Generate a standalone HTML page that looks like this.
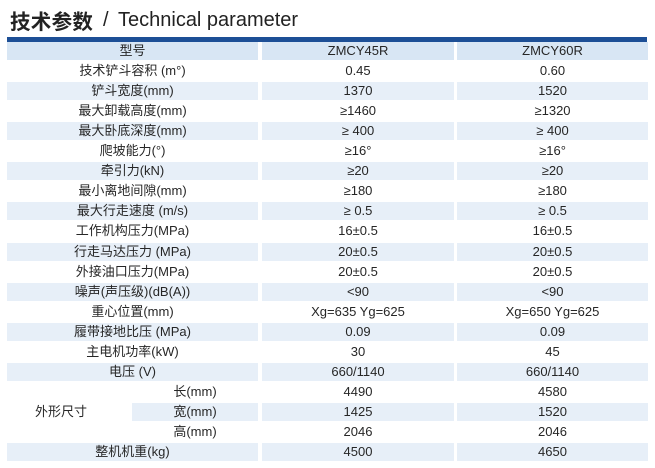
<!DOCTYPE html>
<html>
<head>
<meta charset="utf-8">
<style>
  html,body{margin:0;padding:0;background:#fff;}
  body{width:655px;height:468px;position:relative;overflow:hidden;
       font-family:"Liberation Sans","Noto Sans CJK SC",sans-serif;color:#262626;}
  .t{position:absolute;top:6px;height:28px;line-height:28px;white-space:nowrap;color:#222;}
  .cn{font-family:"Noto Sans CJK SC",sans-serif;font-weight:700;font-size:20.5px;letter-spacing:0.3px;}
  .en{font-family:"Liberation Sans",sans-serif;font-size:20px;}
  .bar{position:absolute;left:7px;top:37px;width:640px;height:5px;background:#1d4f96;}
  .c{position:absolute;height:18px;line-height:18px;font-size:13px;text-align:center;white-space:nowrap;}
  .s{background:#e7eff8;}
  .h{background:#d8e6f4;}
  .l{left:7px;width:251px;}
  .m{left:262px;width:192px;}
  .r{left:457px;width:191px;}
  .sub{left:132px;width:126px;}
</style>
</head>
<body>
<div class="t cn" style="left:10px;">技术参数</div>
<div class="t en" style="left:103px;top:6px;">/</div>
<div class="t en" style="left:118px;top:6px;">Technical parameter</div>
<div class="bar"></div>

<div class="c l h" style="top:42px">型号</div>
<div class="c m h" style="top:42px">ZMCY45R</div>
<div class="c r h" style="top:42px">ZMCY60R</div>

<div class="c l" style="top:62px">技术铲斗容积 (m°)</div>
<div class="c m" style="top:62px">0.45</div>
<div class="c r" style="top:62px">0.60</div>

<div class="c l s" style="top:82px">铲斗宽度(mm)</div>
<div class="c m s" style="top:82px">1370</div>
<div class="c r s" style="top:82px">1520</div>

<div class="c l" style="top:102px">最大卸载高度(mm)</div>
<div class="c m" style="top:102px">≥1460</div>
<div class="c r" style="top:102px">≥1320</div>

<div class="c l s" style="top:122px">最大卧底深度(mm)</div>
<div class="c m s" style="top:122px">≥ 400</div>
<div class="c r s" style="top:122px">≥ 400</div>

<div class="c l" style="top:142px">爬坡能力(°)</div>
<div class="c m" style="top:142px">≥16°</div>
<div class="c r" style="top:142px">≥16°</div>

<div class="c l s" style="top:162px">牵引力(kN)</div>
<div class="c m s" style="top:162px">≥20</div>
<div class="c r s" style="top:162px">≥20</div>

<div class="c l" style="top:182px">最小离地间隙(mm)</div>
<div class="c m" style="top:182px">≥180</div>
<div class="c r" style="top:182px">≥180</div>

<div class="c l s" style="top:202px">最大行走速度 (m/s)</div>
<div class="c m s" style="top:202px">≥ 0.5</div>
<div class="c r s" style="top:202px">≥ 0.5</div>

<div class="c l" style="top:222px">工作机构压力(MPa)</div>
<div class="c m" style="top:222px">16±0.5</div>
<div class="c r" style="top:222px">16±0.5</div>

<div class="c l s" style="top:243px">行走马达压力 (MPa)</div>
<div class="c m s" style="top:243px">20±0.5</div>
<div class="c r s" style="top:243px">20±0.5</div>

<div class="c l" style="top:263px">外接油口压力(MPa)</div>
<div class="c m" style="top:263px">20±0.5</div>
<div class="c r" style="top:263px">20±0.5</div>

<div class="c l s" style="top:283px">噪声(声压级)(dB(A))</div>
<div class="c m s" style="top:283px">&lt;90</div>
<div class="c r s" style="top:283px">&lt;90</div>

<div class="c l" style="top:303px">重心位置(mm)</div>
<div class="c m" style="top:303px">Xg=635 Yg=625</div>
<div class="c r" style="top:303px">Xg=650 Yg=625</div>

<div class="c l s" style="top:323px">履带接地比压 (MPa)</div>
<div class="c m s" style="top:323px">0.09</div>
<div class="c r s" style="top:323px">0.09</div>

<div class="c l" style="top:343px">主电机功率(kW)</div>
<div class="c m" style="top:343px">30</div>
<div class="c r" style="top:343px">45</div>

<div class="c l s" style="top:363px">电压 (V)</div>
<div class="c m s" style="top:363px">660/1140</div>
<div class="c r s" style="top:363px">660/1140</div>

<div class="c" style="top:403px;left:7px;width:108px;">外形尺寸</div>

<div class="c sub" style="top:383px">长(mm)</div>
<div class="c m" style="top:383px">4490</div>
<div class="c r" style="top:383px">4580</div>

<div class="c sub s" style="top:403px">宽(mm)</div>
<div class="c m s" style="top:403px">1425</div>
<div class="c r s" style="top:403px">1520</div>

<div class="c sub" style="top:423px">高(mm)</div>
<div class="c m" style="top:423px">2046</div>
<div class="c r" style="top:423px">2046</div>

<div class="c l s" style="top:443px">整机机重(kg)</div>
<div class="c m s" style="top:443px">4500</div>
<div class="c r s" style="top:443px">4650</div>
</body>
</html>
